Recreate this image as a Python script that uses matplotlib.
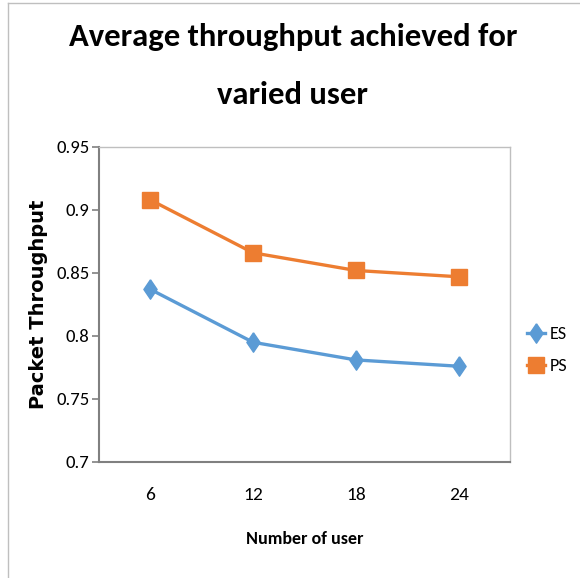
import matplotlib.pyplot as plt
from matplotlib.lines import Line2D

users = ['6', '12', '18', '24']
es_values = [0.837, 0.795, 0.781, 0.776]
ps_values = [0.908, 0.866, 0.852, 0.847]
y_ticks = [0.7, 0.75, 0.8, 0.85, 0.9, 0.95]
y_tick_labels = ['0.7', '0.75', '0.8', '0.85', '0.9', '0.95']

blue = '#5B9BD5'
orange = '#ED7D31'
calibri = ['Carlito', 'DejaVu Sans']
# Excel's diamond is taller than it is wide
tall_diamond = [(0, 1), (0.68, 0), (0, -1), (-0.68, 0), (0, 1)]

fig = plt.figure(figsize=(5.8, 5.78), dpi=100)
ax = fig.add_axes([0.1707, 0.2007, 0.7086, 0.545])

x = list(range(len(users)))
ax.plot(x, es_values, c=blue, marker=tall_diamond, markersize=14, linewidth=2.4, label='ES')
ax.plot(x, ps_values, c=orange, marker='s', markersize=12, linewidth=2.4, label='PS')

ax.set_xlim(-0.5, len(users) - 0.5)
ax.set_ylim(0.7, 0.95)
ax.set_xticks(x)
ax.set_xticklabels(users, family=calibri, fontsize=14)
ax.set_yticks(y_ticks)
ax.set_yticklabels(y_tick_labels, family=calibri, fontsize=13.5)
ax.tick_params(axis='x', length=0, pad=18)
ax.tick_params(axis='y', length=5, color='#808080', width=1.2, pad=2)

for side in ['left', 'bottom']:
    ax.spines[side].set_color('#808080')
    ax.spines[side].set_linewidth(1.5)
for side in ['top', 'right']:
    ax.spines[side].set_color('#BFBFBF')
    ax.spines[side].set_linewidth(1.0)

ax.set_xlabel('Number of user', family=calibri, fontsize=13, fontweight='bold', labelpad=20)
ax.set_ylabel('Packet Throughput', family='DejaVu Sans', fontsize=14, fontweight='bold', labelpad=6)

fig.text(0.505, 0.886, 'Average throughput achieved for\nvaried user', ha='center', va='center',
         family=calibri, fontsize=23.5, fontweight='bold', linespacing=2.3)

handles = [Line2D([], [], c=blue, marker=tall_diamond, markersize=14, linewidth=2.4),
           Line2D([], [], c=orange, marker='s', markersize=12, linewidth=2.4)]
fig.legend(handles, ['ES', 'PS'], loc='center left', bbox_to_anchor=(0.908, 0.394),
           frameon=False, borderpad=0, borderaxespad=0, handlelength=1.0, handletextpad=0.3,
           labelspacing=0.9, prop={'family': calibri, 'size': 13})

# outer chart border
fig.add_artist(Line2D([0.014, 0.014], [0, 0.995], transform=fig.transFigure, c='#BFBFBF', lw=1))
fig.add_artist(Line2D([0.014, 1], [0.995, 0.995], transform=fig.transFigure, c='#BFBFBF', lw=1))

fig.savefig('out.png')
